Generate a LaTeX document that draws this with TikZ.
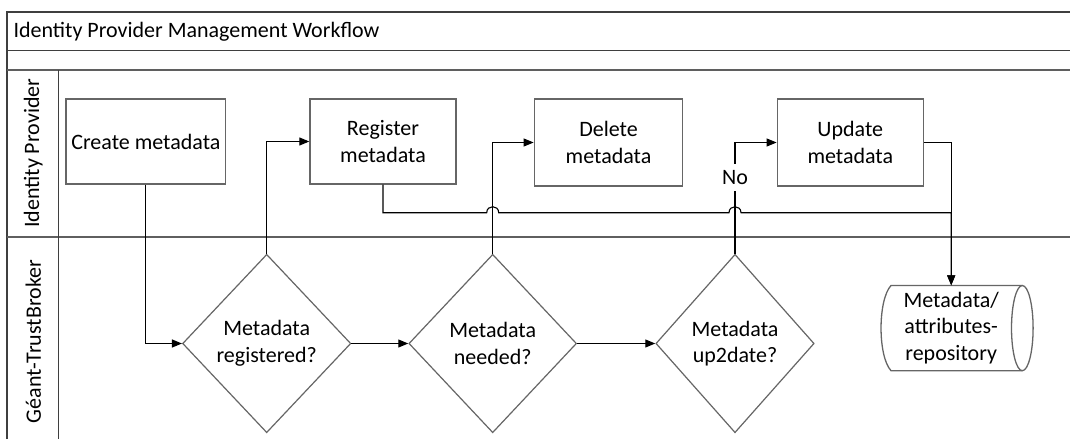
\documentclass[tikz,border=0pt]{standalone}
\usepackage{fontspec}
\setmainfont{Carlito}
\usetikzlibrary{arrows.meta,shapes.geometric}
\definecolor{boxgray}{HTML}{666666}
\definecolor{framegray}{HTML}{3F3F3F}
\definecolor{lanegray}{HTML}{5F5F5F}
\begin{document}
\begin{tikzpicture}[x=1pt,y=-1pt,
  every node/.style={font=\fontsize{22}{26.7}\selectfont, text=black},
  proc/.style={draw=boxgray, line width=1.4pt, rectangle, inner sep=0pt, align=center},
  decis/.style={draw=boxgray, line width=1.2pt, diamond, inner sep=0pt, align=center},
  conn/.style={draw=black, line width=1.1pt},
  arr/.style={conn, -{Triangle[length=10pt,width=8pt]}},
  frameline/.style={draw=framegray, line width=1.6pt},
  laneline/.style={draw=lanegray, line width=1.8pt},
  lanelbl/.style={rotate=90, inner sep=0pt},
  lbl/.style={fill=white, inner xsep=1pt, inner ysep=6pt}]
\useasboundingbox (0,0) rectangle (1070,439);
\fill[white] (0,0) rectangle (1070,439);

% frame
\draw[frameline, line width=2.2pt] (7.3,439) -- (7.3,12) -- (1070,12);
\draw[frameline, line width=1.3pt] (7.3,50.7) -- (1070,50.7);
\draw[laneline, line width=1.4pt] (7.3,70) -- (1070,70);
\draw[laneline, line width=2.2pt] (7.3,236.7) -- (1070,236.7);
\draw[frameline, line width=1.5pt] (58.3,70) -- (58.3,439);

\node[anchor=base west, inner sep=0pt] (title) at (13.3,37.7) {Identity Provider Management Workflow};
\node[lanelbl] (lane1) at (33.3,153.3) {Identity Provider};
\node[lanelbl] (lane2) at (33.3,341.7) {Géant-TrustBroker};

% process boxes
\node[proc, minimum width=159.7pt, minimum height=85pt] (create) at (145.85,141.5) {Create metadata};
\node[proc, minimum width=146pt, minimum height=85pt] (reg) at (383,141.5) {Register\\metadata};
\node[proc, minimum width=148.4pt, minimum height=87pt] (del) at (608.5,142.5) {Delete\\metadata};
\node[proc, minimum width=146pt, minimum height=87pt] (upd) at (850.3,142.5) {Update\\metadata};

% decisions
\node[decis, minimum width=168.3pt, minimum height=178.4pt] (d1) at (266.7,343.5) {Metadata\\registered?};
\node[decis, minimum width=167.7pt, minimum height=178.4pt] (d2) at (492.7,343.5) {Metadata\\needed?};
\node[decis, minimum width=158.3pt, minimum height=178.4pt] (d3) at (735,343.5) {Metadata\\up2date?};

% repository
\draw[boxgray, line width=1.3pt]
  (1022.3,285.5) -- (891,285.5) .. controls (877.7,300) and (877.7,356.2) .. (891,370.7) -- (1022.3,370.7);
\draw[boxgray, line width=1.3pt] (1022.3,328.1) ellipse [x radius=10.8pt, y radius=42.6pt];
\node[inner sep=0pt, minimum width=131pt, minimum height=85.2pt, align=center] (repo) at (951.2,328.1) {Metadata/\\attributes-\\repository};

% connectors
\draw[arr] (create.south) |- (d1.west);
\draw[arr] (d1.north) |- (reg.west);
\draw[arr] (d1.east) -- (d2.west);
\draw[arr] (d2.north) |- (del.west);
\draw[arr] (d2.east) -- (d3.west);
\draw[arr] (d3.north) |- node[lbl, pos=0.343] {No} (upd.west);
\draw[arr] (reg.south) |- (486.7,212.7)
  .. controls (486.7,204.7) and (498.7,204.7) .. (498.7,212.7)
  -- (729,212.7)
  .. controls (729,204.7) and (741,204.7) .. (741,212.7)
  -| (repo.north);
\draw[arr] (upd.east) -| (repo.north);
\end{tikzpicture}
\end{document}
